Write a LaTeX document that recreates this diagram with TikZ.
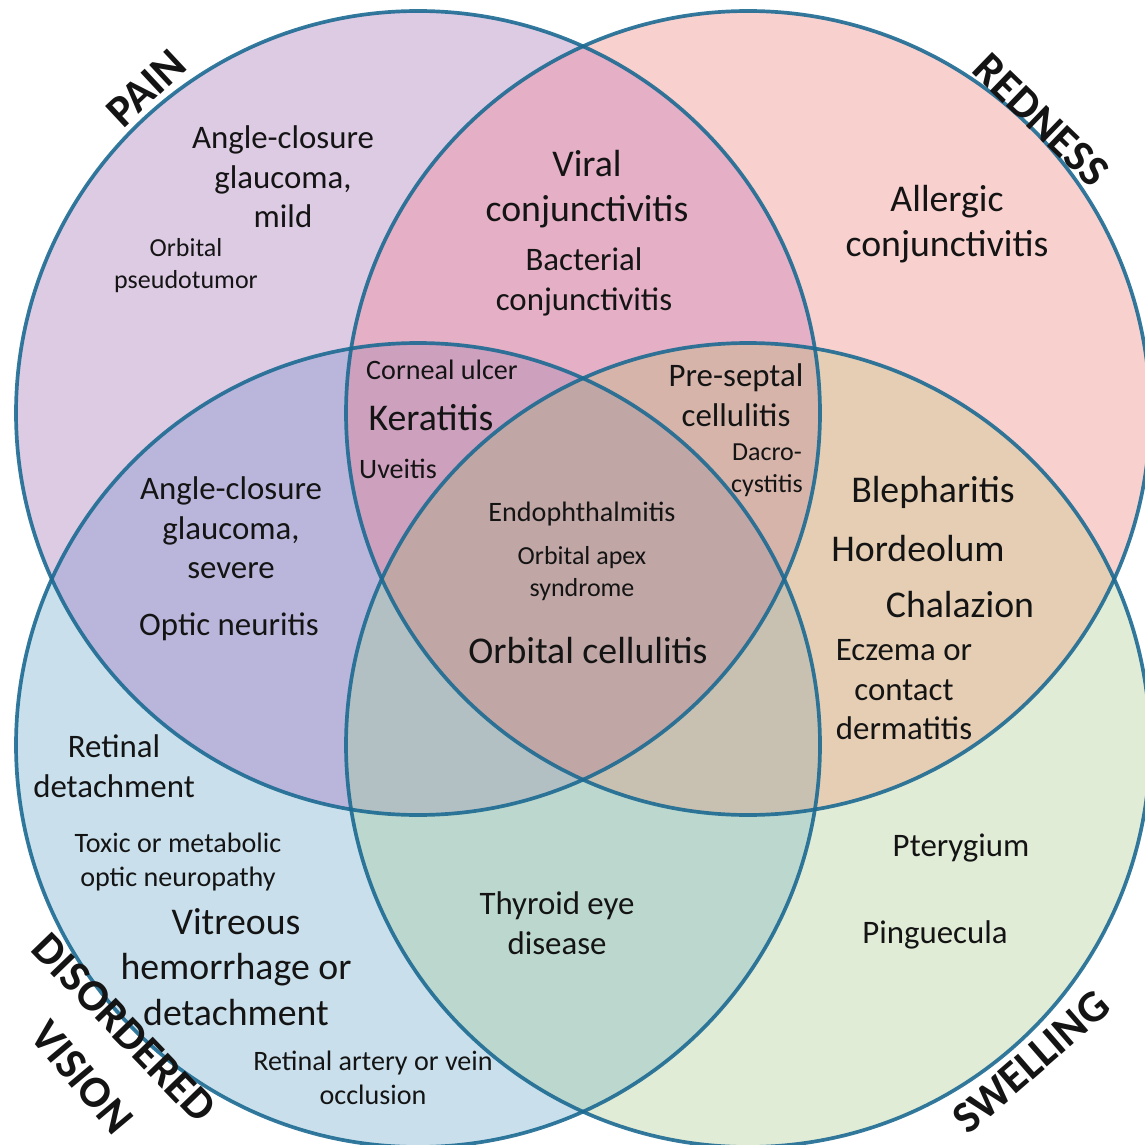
\documentclass[tikz,border=0pt]{standalone}
\usepackage{fontspec}
\setmainfont{Carlito}
\usepackage{tikz}
\usetikzlibrary{positioning}

% set colours
\definecolor{ringblue}{RGB}{28,106,146}
\definecolor{painfill}{RGB}{221,203,228}
\definecolor{redfill}{RGB}{248,209,207}
\definecolor{visionfill}{RGB}{201,224,236}
\definecolor{swellfill}{RGB}{225,236,215}
\definecolor{painred}{RGB}{229,175,197}
\definecolor{painvision}{RGB}{186,182,219}
\definecolor{redswell}{RGB}{229,206,180}
\definecolor{visionswell}{RGB}{188,216,206}
\definecolor{painredvision}{RGB}{205,160,190}
\definecolor{painredswell}{RGB}{214,180,170}
\definecolor{painvisionswell}{RGB}{178,192,196}
\definecolor{redvisionswell}{RGB}{200,193,178}
\definecolor{allfour}{RGB}{192,166,165}

\newcommand{\painset}{(418,413) circle (402)}
\newcommand{\redset}{(748,413) circle (402)}
\newcommand{\visionset}{(418,745) circle (402)}
\newcommand{\swellset}{(748,745) circle (402)}

\begin{document}
\begin{tikzpicture}[
    x=0.02cm, y=-0.02cm,
    every node/.style={inner sep=0pt, align=center, text=black!92},
    xl/.style={font=\fontsize{21.5}{26}\selectfont},
    lg/.style={font=\fontsize{18.7}{22.5}\selectfont},
    md/.style={font=\fontsize{16}{19}\selectfont},
    sm/.style={font=\fontsize{14.8}{18.2}\selectfont},
    setname/.style={font=\fontsize{25.5}{28}\selectfont\bfseries},
    ring/.style={draw=ringblue, line width=2.1pt, draw opacity=0.9},
]
\clip (0,0) rectangle (1145,1145);

% Fills
\fill[painfill] \painset;
\fill[redfill] \redset;
\fill[visionfill] \visionset;
\fill[swellfill] \swellset;
\begin{scope}
  \clip \painset;
  \fill[painred] \redset;
  \fill[painvision] \visionset;
\end{scope}
\begin{scope}
  \clip \swellset;
  \fill[redswell] \redset;
  \fill[visionswell] \visionset;
\end{scope}
\begin{scope}
  \clip \painset; \clip \redset;
  \fill[painredvision] \visionset;
  \fill[painredswell] \swellset;
\end{scope}
\begin{scope}
  \clip \visionset; \clip \swellset;
  \fill[painvisionswell] \painset;
  \fill[redvisionswell] \redset;
\end{scope}
\begin{scope}
  \clip \painset; \clip \redset; \clip \visionset;
  \fill[allfour] \swellset;
\end{scope}

% Rings
\draw[ring] \painset;
\draw[ring] \redset;
\draw[ring] \visionset;
\draw[ring] \swellset;

% Set names
\node[setname, rotate=43]  (pain)    at (146,88)   {PAIN};
\node[setname, rotate=-44] (redness) at (1041,120) {REDNESS};
\node[setname, rotate=-46] (disord)  at (124,1028) {DISORDERED};
\node[setname, rotate=-50] (vision)  at (82,1077)  {VISION};
\node[setname, rotate=41]  (swell)   at (1031,1062) {SWELLING};

% Pain
\node[lg] (acgmild)  at (283,177) {Angle-closure\\glaucoma,\\mild};
\node[sm] (pseudo)   at (186,266) {Orbital\\pseudotumor};
% Pain and redness
\node[xl] (viral)    at (587,189) {Viral\\conjunctivitis};
\node[lg] (bact)     at (584,282) {Bacterial\\conjunctivitis};
% Redness
\node[xl] (allergic) at (947,224) {Allergic\\conjunctivitis};
% Pain, redness and vision
\node[md] (corneal)  at (442,370) {Corneal ulcer};
\node[xl] (kera)     at (431,418) {Keratitis};
\node[md] (uveitis)  at (398,469) {Uveitis};
% Pain, redness and swelling
\node[lg] (presept)  at (736,395) {Pre-septal\\cellulitis};
\node[sm] (dacro)    at (767,470) {Dacro-\\cystitis};
% Pain and vision
\node[lg] (acgsev)   at (231,528) {Angle-closure\\glaucoma,\\severe};
\node[lg] (optic)    at (229,627) {Optic neuritis};
% All four
\node[md] (endo)     at (582,514) {Endophthalmitis};
\node[sm] (apex)     at (582,574) {Orbital apex\\syndrome};
\node[xl] (orbcell)  at (588,651) {Orbital cellulitis};
% Redness and swelling
\node[xl] (bleph)    at (933,492) {Blepharitis};
\node[xl] (hord)     at (918,549) {Hordeolum};
\node[xl] (chal)     at (960,605) {Chalazion};
\node[lg] (eczema)   at (904,690) {Eczema or\\contact\\dermatitis};
% Vision
\node[lg] (retdet)   at (114,766) {Retinal\\detachment};
\node[md] (toxic)    at (178,862) {Toxic or metabolic\\optic neuropathy};
\node[xl] (vitre)    at (236,967) {Vitreous\\hemorrhage or\\detachment};
\node[md] (occl)     at (373,1078) {Retinal artery or vein\\occlusion};
% Vision and swelling
\node[lg] (thyroid)  at (557,923) {Thyroid eye\\disease};
% Swelling
\node[lg] (ptery)    at (961,848) {Pterygium};
\node[lg] (pingu)    at (935,935) {Pinguecula};

\end{tikzpicture}
\end{document}
